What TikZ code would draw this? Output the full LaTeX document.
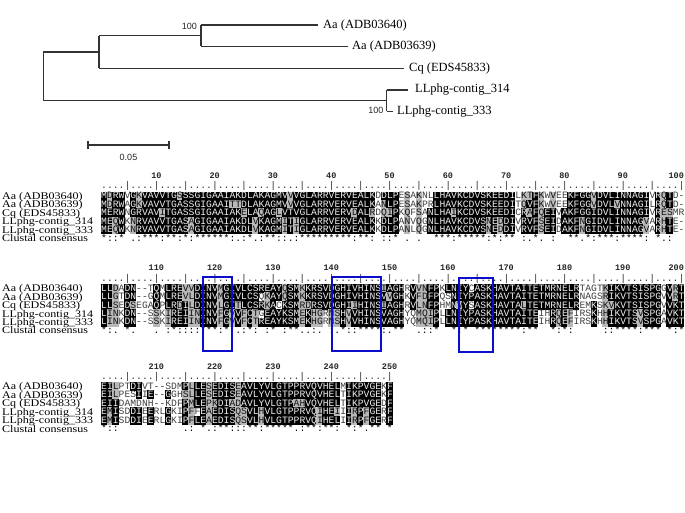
\documentclass[tikz,border=0pt]{standalone}
\usepackage{fontspec}
\usepackage{graphicx}
\setmainfont{Liberation Serif}
\setmonofont{Liberation Mono}
\newfontfamily\arialf{Liberation Sans}
\definecolor{cellgrey}{gray}{0.72}
\definecolor{txtblack}{gray}{0.93}
\definecolor{txtgrey}{gray}{0.08}
\definecolor{txtplain}{gray}{0.25}
\definecolor{boxblue}{RGB}{12,12,205}
\definecolor{treegray}{gray}{0.2}
\newcommand\cellbg[3]{\fill[#3] ({#1-1.04},{#2-0.53}) rectangle ({#1+0.04},{#2+0.53});}
\newcommand\seqch[2]{\textcolor{#1}{#2}}
\newcommand\seqrow[3]{\node[seqtext] (b#1r#2) at (0,{#2+0.34}) {#3};}
\newcommand\consrow[2]{\node[seqtext,text=black] (b#1cons) at (0,6.34) {#2};}
\newcommand\rulerrow[2]{\node[seqtext,text=black!80] (b#1ruler) at (0,0.17) {#2};}
\newcommand\rulnum[2]{\node[rulnum] (num#2) at ({#1-0.5},-1.07) {#2};}
\newcommand\rulnumlast[2]{\node[rulnum,anchor=base east] (num#2) at ({#1+0.02},-1.07) {#2};}
\newcommand\nametext[1]{\scalebox{1.18}[1]{#1}}

\ExplSyntaxOn
\tl_const:cn {c_my_seq_1_1_tl} {MDRWVGKVAVVTGSSSGIGAAIAKDLAKAGMVVVGLARRVERVEALKDDLPESAKNLLHAVKCDVSKEEDILKTFKWVEEKFGGVDVLINNAGIVRQTD-}
\tl_const:cn {c_my_seq_1_2_tl} {MDRWAGKVAVVTGASSGIGAAITTDLAKAGMVVVGLARRVERVEALKANLPESAKPRLHAVKCDVSKEEDITQVFKWVEEKFGGVDVLVNNAGILRQTD-}
\tl_const:cn {c_my_seq_1_3_tl} {MERWNGRVAVITGASSGIGAAIAKELAQAGLVTVGLARRVERVDALRDQIPKQFSANLHAIKCDVSKEEDICRAFQEIVAKFGGIDVLINNAGIVRESMR}
\tl_const:cn {c_my_seq_1_4_tl} {MEQWKNRVAVVTGASAGIGAAIAKDLVKAGMITIGLARRVERVEALKKDLPANVQGNLHAVKCDVSNEDDIVRVFSEIDAKFNGIDVLINNAGVARHTE-}
\tl_const:cn {c_my_seq_1_5_tl} {MEQWKNRVAVVTGASAGIGAAIAKDLVKAGMITIGLARRVERVEALKKDLPANLQGNLHAVKCDVSNEDDIVRVFSEIDAKFNGIDVLINNAGVARHTE-}
\tl_const:cn {c_my_cons_1_tl} {*::*_.:***:**:*:******:.:*.:**::.:*********:**:_::*_._.__***:*****:*:**_:.*._:__**.*:***:****:_*.:__}
\tl_const:cn {c_my_seq_2_1_tl} {LLDADN--TQMLREVVDINVMGIVLCSREAYQSMKKRSVDGHIVHINSIAGHRVVNFPKLNIYCASKHAVTAITETMRNELRTAGTKIKVTSISPGGVRT}
\tl_const:cn {c_my_seq_2_2_tl} {LLGTDN--GQMLREVLDINVMGIVLCSQKAYQSMKKRSVDGHIVHINSVVGHKVFDFPQSNIYPASKHAVTAITETMRNELRNAGSRIKVTSISPGVVRT}
\tl_const:cn {c_my_seq_2_3_tl} {LLSEDSEGAQPLRDILDINVLGITLCSRKACKSMRDRSVDGHIIHINSIAGHRVLNFPHMNVYSASKHAVTALTETMRNELREMKSKVKVTSISPGVVKT}
\tl_const:cn {c_my_seq_2_4_tl} {LINKDN--SSKIREIININVFGVVFCTGEAYKSMEKHGRNSHVVHINSVAGHYQMQIPLLNIYPASKHAVTAITEIHRQEFIRSKHHIKVTSVSPGAVKT}
\tl_const:cn {c_my_seq_2_5_tl} {LINKDN--SSKIREIININVFGVVFCTREAYKSMEKHGRNSHVVHINSVAGHYQMQIPLLNIYPASKHAVTAITEIHRQEFIRSKHHIKVTSVSPGAVKT}
\tl_const:cn {c_my_cons_2_tl} {*:._*.___._:*::::***:*:.:*:_:*_:**..:._:.*::****:.**__.::*__*:*_********:**__*:*:_____::****:***_*:*}
\tl_const:cn {c_my_seq_3_1_tl} {EILPTDIVT--SDMPLLESEDISEAVLYVLGTPPRVQVHELMIKPVGEKF}
\tl_const:cn {c_my_seq_3_2_tl} {EILPESIIE--GGHSLLESEDISEAVLYVLGTPPRVQVHELTIKPVGEKF}
\tl_const:cn {c_my_seq_3_3_tl} {EIIDAMDNH--KDFPMLEPKDIADAVLYVLGTPAHVQVHELTIKPVGEDF}
\tl_const:cn {c_my_seq_3_4_tl} {EMISDDIEERLGKIPFFEAEDISQSVLHVLGTPPRVQIHEIIIRPFGERF}
\tl_const:cn {c_my_seq_3_5_tl} {EMISDDIEERLGKIPFLEAEDISQSVLHVLGTPPRVQIHELIIRPFGERF}
\tl_const:cn {c_my_cons_3_tl} {*::___________.:_*.:**:::**:*****.:**:**:_*:*.**_*}

\int_new:N \l_my_cnt_int
\tl_new:N \l_my_ch_tl
\tl_new:N \l_my_cons_tl
\tl_new:N \l_my_type_tl
\tl_new:N \l_my_c_tl
\tl_new:N \l_my_r_tl
\tl_new:N \l_my_q_tl
\tl_new:N \l_my_constxt_tl
\tl_new:N \l_my_ruler_tl
\bool_new:N \l_my_sim_bool
\int_step_inline:nn {5} { \tl_new:c {l_my_ch_#1_tl} \tl_new:c {l_my_txt_#1_tl} }

\cs_new_protected:Npn \my_block:nn #1#2
 {
  \int_step_inline:nn {5} { \tl_clear:c {l_my_txt_##1_tl} }
  \tl_clear:N \l_my_constxt_tl
  \tl_clear:N \l_my_ruler_tl
  \int_step_variable:nNn {#2} \l_my_c_tl
   {
    \int_step_variable:nNn {5} \l_my_r_tl
     {
      \tl_set:cx {l_my_ch_ \l_my_r_tl _tl}
        { \tl_item:cn {c_my_seq_#1_ \l_my_r_tl _tl} {\l_my_c_tl} }
     }
    \tl_set:Nx \l_my_cons_tl { \tl_item:cn {c_my_cons_#1_tl} {\l_my_c_tl} }
    \bool_set_false:N \l_my_sim_bool
    \str_if_eq:VnT \l_my_cons_tl {:} { \bool_set_true:N \l_my_sim_bool }
    \str_if_eq:VnT \l_my_cons_tl {.} { \bool_set_true:N \l_my_sim_bool }
    \int_step_variable:nNn {5} \l_my_r_tl
     {
      \tl_set_eq:Nc \l_my_ch_tl {l_my_ch_ \l_my_r_tl _tl}
      \int_zero:N \l_my_cnt_int
      \int_step_variable:nNn {5} \l_my_q_tl
       {
        \str_if_eq:eeT { \tl_use:c {l_my_ch_ \l_my_q_tl _tl} } { \l_my_ch_tl }
          { \int_incr:N \l_my_cnt_int }
       }
      \str_if_eq:VnTF \l_my_ch_tl {-}
       { \tl_set:Nn \l_my_type_tl {txtplain} }
       {
        \int_compare:nNnTF \l_my_cnt_int > 2
         {
          \tl_set:Nn \l_my_type_tl {txtblack}
          \cellbg{\l_my_c_tl}{\l_my_r_tl}{black}
         }
         {
          \bool_if:NTF \l_my_sim_bool
           {
            \tl_set:Nn \l_my_type_tl {txtgrey}
            \cellbg{\l_my_c_tl}{\l_my_r_tl}{cellgrey}
           }
           { \tl_set:Nn \l_my_type_tl {txtplain} }
         }
       }
      \tl_put_right:cx {l_my_txt_ \l_my_r_tl _tl}
        { \exp_not:N \seqch {\l_my_type_tl} {\l_my_ch_tl} }
     }
    \str_if_eq:VnTF \l_my_cons_tl {_}
      { \tl_put_right:Nn \l_my_constxt_tl { \hphantom{*} } }
      { \tl_put_right:Nx \l_my_constxt_tl { \l_my_cons_tl } }
    \int_compare:nNnTF { \int_mod:nn {\l_my_c_tl} {5} } = 0
      { \tl_put_right:Nn \l_my_ruler_tl {|} }
      { \tl_put_right:Nn \l_my_ruler_tl {.} }
    \int_compare:nNnT { \int_mod:nn {\l_my_c_tl} {10} } = 0
      {
        \int_compare:nNnTF {\l_my_c_tl} = {100}
         { \use:e { \exp_not:N \rulnumlast {\l_my_c_tl} { \int_eval:n {(#1-1)*100+\l_my_c_tl} } } }
         { \use:e { \exp_not:N \rulnum {\l_my_c_tl} { \int_eval:n {(#1-1)*100+\l_my_c_tl} } } }
      }
   }
  \int_step_inline:nn {5}
   { \seqrow{#1}{##1}{ \tl_use:c {l_my_txt_##1_tl} } }
  \consrow{#1}{ \tl_use:N \l_my_constxt_tl }
  \rulerrow{#1}{ \tl_use:N \l_my_ruler_tl }
 }
\cs_new_eq:NN \DrawBlock \my_block:nn
\ExplSyntaxOff

\begin{document}
\begin{tikzpicture}[x=1bp,y=-1bp,
  tree/.style={draw=treegray, line width=1.1bp},
  leaf/.style={font=\fontsize{12.5bp}{13bp}\selectfont, anchor=west, inner sep=0pt, text=black},
  boot/.style={font=\arialf\fontsize{9bp}{10bp}\selectfont, anchor=east, inner sep=0pt, text=black!85},
  seqname/.style={font=\fontsize{10.2bp}{11bp}\selectfont, anchor=base west, inner sep=0pt, text=black},
  seqtext/.style={font=\ttfamily\fontsize{9.72bp}{10bp}\selectfont, anchor=base west, inner sep=0pt},
  rulnum/.style={font=\ttfamily\bfseries\fontsize{8.5bp}{9bp}\selectfont, anchor=base, inner sep=0pt, text=black!85},
  motif/.style={draw=boxblue, line width=2.6bp}]
\fill[white] (0,0) rectangle (685,513);
\useasboundingbox (0,0) rectangle (685,513);

% ---------- tree ----------
\coordinate (rootT) at (43.3,52);
\coordinate (rootB) at (43.3,100.7);
\coordinate (n1) at (99,52);
\coordinate (n1T) at (99,35.7);
\coordinate (n1B) at (99,68.3);
\coordinate (n2) at (201,35.7);
\coordinate (n2T) at (201,25);
\coordinate (n2B) at (201,46.5);
\coordinate (n3) at (386.7,100.7);
\coordinate (n3T) at (386.7,90);
\coordinate (n3B) at (386.7,111.4);
\coordinate (l1) at (318,25);
\coordinate (l2) at (348,46.5);
\coordinate (l3) at (404,68.3);
\coordinate (l4) at (408,90);
\coordinate (l5) at (393,111.4);
\draw[tree] (rootT) -- (rootB);
\draw[tree] (rootT) -- (n1);
\draw[tree] (rootB) -- (n3);
\draw[tree] (n1T) -- (n1B);
\draw[tree] (n1T) -- (n2);
\draw[tree] (n2T) -- (n2B);
\draw[tree] (n2T) -- (l1);
\draw[tree] (n2B) -- (l2);
\draw[tree] (n1B) -- (l3);
\draw[tree] (n3T) -- (n3B);
\draw[tree] (n3T) -- (l4);
\draw[tree] (n3B) -- (l5);
\node[leaf] (L1) at (323,25) {Aa (ADB03640)};
\node[leaf] (L2) at (352,46.5) {Aa (ADB03639)};
\node[leaf] (L3) at (409,68.3) {Cq (EDS45833)};
\node[leaf] (L4) at (415,90) {LLphg-contig\_314};
\node[leaf] (L5) at (397,112) {LLphg-contig\_333};
\node[boot] (bs1) at (197,26) {100};
\node[boot] (bs2) at (383.5,110.5) {100};
% scale bar
\coordinate (sbL) at (88,145);
\coordinate (sbR) at (169,145);
\draw[tree] (sbL) -- (sbR);
\draw[tree] ([yshift=-4bp]sbL) -- ([yshift=4bp]sbL);
\draw[tree] ([yshift=-4bp]sbR) -- ([yshift=4bp]sbR);
\node[boot, anchor=center] (sblab) at (128.5,157) {0.05};

% ---------- alignment blocks ----------
\begin{scope}[shift={(101,187.55)}, x=5.83bp, y=-8.45bp]
  \DrawBlock{1}{100}
\end{scope}
\begin{scope}[shift={(101,279.85)}, x=5.83bp, y=-8.45bp]
  \DrawBlock{2}{100}
\end{scope}
\begin{scope}[shift={(101,378.05)}, x=5.83bp, y=-8.45bp]
  \DrawBlock{3}{50}
\end{scope}

% names
\foreach \blk/\yy in {1/196, 2/288.3, 3/386.5} {
  \node[seqname] (nm\blk a) at (2,{\yy+3.4}) {\nametext{Aa (ADB03640)}};
  \node[seqname] (nm\blk b) at (2,{\yy+8.45+3.4}) {\nametext{Aa (ADB03639)}};
  \node[seqname] (nm\blk c) at (2,{\yy+16.9+3.4}) {\nametext{Cq (EDS45833)}};
  \node[seqname] (nm\blk d) at (2,{\yy+25.35+3.4}) {\nametext{LLphg-contig\_314}};
  \node[seqname] (nm\blk e) at (2,{\yy+33.8+3.4}) {\nametext{LLphg-contig\_333}};
  \node[seqname] (nm\blk f) at (2,{\yy+42.25+3.4}) {\nametext{Clustal consensus}};
}

% motif boxes
\draw[motif] (203,277) rectangle (232,351);
\draw[motif] (332,277) rectangle (381,351);
\draw[motif] (459,278) rectangle (493,352);
\end{tikzpicture}
\end{document}
